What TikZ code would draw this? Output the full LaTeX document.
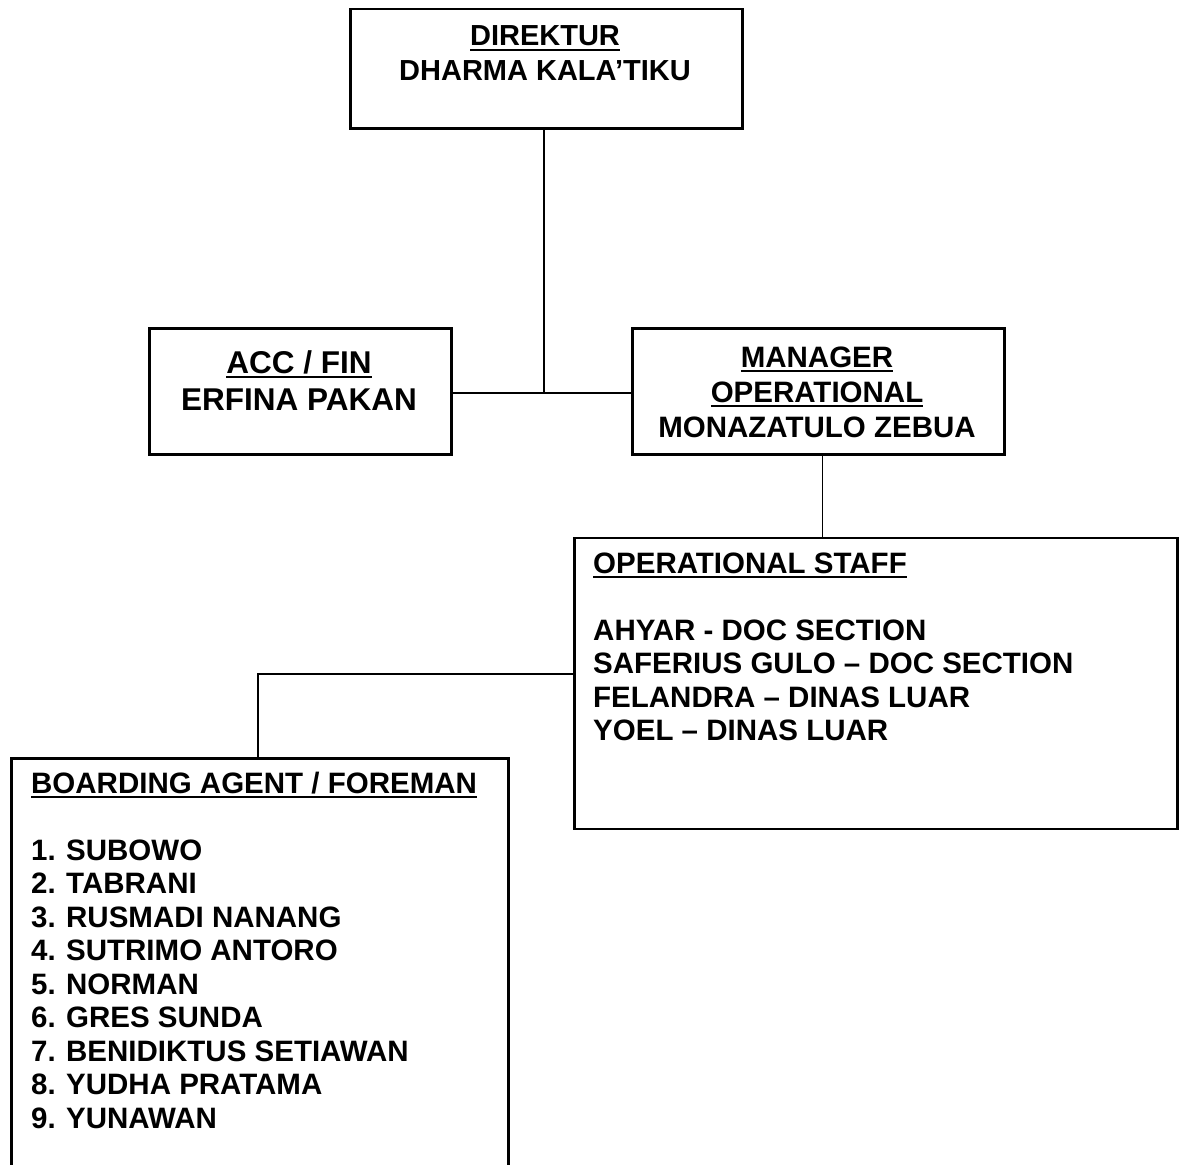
\documentclass[tikz,border=0pt]{standalone}
\usepackage{fontspec}
\setmainfont{Liberation Sans}
\newcommand\myul[1]{\leavevmode\setbox0\hbox{#1}\rlap{\rule[-5pt]{\wd0}{2pt}}\box0}
\newcommand\numitem[2]{\leavevmode\makebox[35pt][l]{#1}#2}
\begin{document}
\begin{tikzpicture}[x=1pt,y=-1pt,
  box/.style={draw=black,line width=2.5pt,rectangle,inner sep=0pt,anchor=north west},
  conn/.style={draw=black,line width=1.4pt},
  txt/.style={inner sep=0pt,anchor=base,font=\fontsize{29pt}{35pt}\selectfont\bfseries},
  ltxt/.style={inner sep=0pt,anchor=base west,font=\fontsize{29.5pt}{33.5pt}\selectfont\bfseries}]
\useasboundingbox[fill=white] (0,0) rectangle (1180,1164);
% boxes
\node[box,minimum width=392pt,minimum height=119pt] (dir) at (349,8) {};
\node[box,minimum width=302pt,minimum height=126pt] (acc) at (148,327) {};
\node[box,minimum width=372pt,minimum height=126pt] (mgr) at (631,327) {};
\node[box,minimum width=603pt,minimum height=291pt] (ops) at (573,536.5) {};
\node[box,minimum width=497pt,minimum height=416pt] (brd) at (10,757) {};
% texts
\node[txt] (dirt) at (545,46) {\parbox[t]{390pt}{\centering\myul{DIREKTUR}\\DHARMA KALA’TIKU}};
\node[txt,font=\fontsize{31.5pt}{37pt}\selectfont\bfseries] (acct) at (299,373) {\parbox[t]{300pt}{\centering\myul{ACC / FIN}\\ERFINA PAKAN}};
\node[txt,font=\fontsize{29.5pt}{35pt}\selectfont\bfseries] (mgrt) at (817,367) {\parbox[t]{370pt}{\centering\myul{MANAGER}\\\myul{OPERATIONAL}\\MONAZATULO ZEBUA}};
\node[ltxt] (opst) at (593,573) {\parbox[t]{580pt}{\raggedright\myul{OPERATIONAL STAFF}\\[33.5pt]
AHYAR - DOC SECTION\\
SAFERIUS GULO – DOC SECTION\\
FELANDRA – DINAS LUAR\\
YOEL – DINAS LUAR}};
\node[ltxt] (brdt) at (31,793) {\parbox[t]{470pt}{\raggedright\myul{BOARDING AGENT / FOREMAN}\\[33.5pt]
\numitem{1.}{SUBOWO}\\
\numitem{2.}{TABRANI}\\
\numitem{3.}{RUSMADI NANANG}\\
\numitem{4.}{SUTRIMO ANTORO}\\
\numitem{5.}{NORMAN}\\
\numitem{6.}{GRES SUNDA}\\
\numitem{7.}{BENIDIKTUS SETIAWAN}\\
\numitem{8.}{YUDHA PRATAMA}\\
\numitem{9.}{YUNAWAN}}};
% connectors
\coordinate (j) at (544,393);
\coordinate (k) at (258,674);
\draw[conn] (dir.south -| j) -- (j);
\draw[conn] (acc.east |- j) -- (mgr.west |- j);
\draw[conn] ([xshift=4pt]mgr.south) -- ([xshift=4pt]mgr.south |- ops.north);
\draw[conn] (ops.west |- k) -- (k) -- (k |- brd.north);
\end{tikzpicture}
\end{document}
